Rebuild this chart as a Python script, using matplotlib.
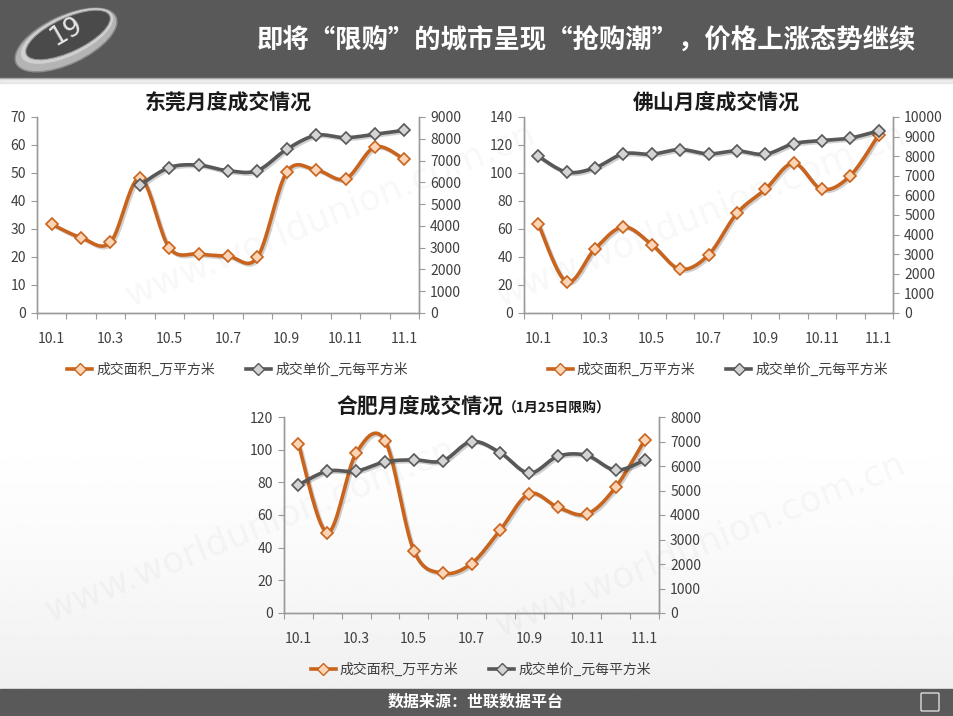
import matplotlib
matplotlib.use("Agg")
import matplotlib.pyplot as plt
import matplotlib.patheffects as pe
from matplotlib.patches import Rectangle, Ellipse, FancyBboxPatch
from matplotlib.lines import Line2D
import numpy as np

plt.rcParams['font.family'] = ['Noto Sans CJK SC', 'DejaVu Sans']

# ---- data ----
months = ["10.1", "10.2", "10.3", "10.4", "10.5", "10.6", "10.7",
          "10.8", "10.9", "10.10", "10.11", "10.12", "11.1"]

dg_area = [31.7, 26.9, 25.3, 48.2, 23.3, 21.1, 20.3, 19.9, 50.3, 51.1, 47.9, 59.3, 54.9]
dg_price = [np.nan, np.nan, np.nan, 5870, 6680, 6790, 6530, 6540, 7520, 8160, 8050, 8210, 8390]

fs_area = [63.8, 22.3, 45.8, 61.5, 48.9, 31.3, 41.5, 71.2, 88.3, 107.0, 88.3, 98.2, 127.4]
fs_price = [8000, 7190, 7410, 8120, 8100, 8340, 8120, 8270, 8100, 8640, 8800, 8930, 9300]

hf_area = [103.5, 49.2, 97.8, 105.6, 38.2, 24.4, 30.3, 51.0, 73.0, 64.7, 60.6, 77.1, 105.8]
hf_price = [5230, 5790, 5790, 6170, 6250, 6210, 7000, 6540, 5710, 6400, 6430, 5830, 6240]

area_label = "成交面积_万平方米"
price_label = "成交单价_元每平方米"
header_title = "即将“限购”的城市呈现“抢购潮”，价格上涨态势继续"
source_text = "数据来源：世联数据平台"

ORANGE = "#C8641E"
ORANGE_FILL = "#FBD5B5"
GRAY = "#585858"
GRAY_FILL = "#D4D4D4"
TICK_COLOR = "#3f3f3f"
W, H = 954, 716


def smooth(xs, ys, n=20):
    """Excel-like smoothed line (Catmull-Rom) through the valid points."""
    xs = np.asarray(xs, float)
    ys = np.asarray(ys, float)
    ok = ~np.isnan(ys)
    xs, ys = xs[ok], ys[ok]
    out_x, out_y = [], []
    t = np.linspace(0, 1, n)
    for i in range(len(xs) - 1):
        i0 = max(i - 1, 0)
        i3 = min(i + 2, len(xs) - 1)
        for src, dst in ((xs, out_x), (ys, out_y)):
            p0, p1, p2, p3 = src[i0], src[i], src[i + 1], src[i3]
            c = 0.5 * ((2 * p1) + (-p0 + p2) * t +
                       (2 * p0 - 5 * p1 + 4 * p2 - p3) * t ** 2 +
                       (-p0 + 3 * p1 - 3 * p2 + p3) * t ** 3)
            dst.extend(c)
    return out_x, out_y


def px_rect(x0, y0, x1, y1):
    return [x0 / W, 1 - y1 / H, (x1 - x0) / W, (y1 - y0) / H]


shadow = [pe.SimpleLineShadow(offset=(1.2, -1.2), alpha=0.18, shadow_color="black"), pe.Normal()]


def draw_chart(fig, rect, area, price, lmax, lstep, rmax, rstep):
    ax = fig.add_axes(rect)
    ax2 = ax.twinx()
    x = np.arange(len(months))
    for a, vals, col, fill in ((ax, area, ORANGE, ORANGE_FILL), (ax2, price, GRAY, GRAY_FILL)):
        sx, sy = smooth(x, vals)
        a.plot(sx, sy, color=col, lw=2.6, solid_capstyle="round", path_effects=shadow, zorder=3)
        a.plot(x, vals, ls="none", marker="D", ms=6.5, mfc=fill, mec=col, mew=1.2, zorder=4)
    ax.set_xlim(-0.5, len(months) - 0.5)
    ax.set_ylim(0, lmax)
    ax2.set_ylim(0, rmax)
    ax.set_yticks(np.arange(0, lmax + 1, lstep))
    ax2.set_yticks(np.arange(0, rmax + 1, rstep))
    ax.set_xticks(np.arange(-0.5, len(months), 1.0))
    ax.set_xticklabels([])
    ax.set_xticks(x[::2], minor=True)
    ax.set_xticklabels(months[::2], minor=True)
    ax.tick_params(axis="x", which="major", length=4, color="#9a9a9a", direction="out")
    ax.tick_params(axis="x", which="minor", length=0, pad=14, labelsize=10, labelcolor=TICK_COLOR)
    ax.tick_params(axis="y", length=4, color="#9a9a9a", labelsize=10, labelcolor=TICK_COLOR, pad=4)
    ax2.tick_params(axis="y", length=4, color="#9a9a9a", labelsize=10, labelcolor=TICK_COLOR, pad=4)
    for a in (ax, ax2):
        a.patch.set_visible(False)
        a.spines["top"].set_visible(False)
        for s in ("left", "right", "bottom"):
            a.spines[s].set_color("#9a9a9a")
            a.spines[s].set_linewidth(1.0)
    handles = [
        Line2D([], [], color=ORANGE, lw=2.6, marker="D", ms=6.5, mfc=ORANGE_FILL, mec=ORANGE),
        Line2D([], [], color=GRAY, lw=2.6, marker="D", ms=6.5, mfc=GRAY_FILL, mec=GRAY),
    ]
    ax2.legend(handles, [area_label, price_label], loc="upper center",
               bbox_to_anchor=(0.525, -0.19), ncol=2, frameon=False, fontsize=10,
               handlelength=1.8, columnspacing=2.2, handletextpad=0.3,
               labelcolor=TICK_COLOR)
    return ax, ax2


fig = plt.figure(figsize=(W / 100, H / 100), dpi=100)

# background with watermark, header and footer
bg = fig.add_axes([0, 0, 1, 1])
bg.set_xlim(0, W)
bg.set_ylim(H, 0)
bg.axis("off")
yy = np.linspace(0, 1, 300)
grad = 1.0 - 0.06 * np.clip((yy - 0.55) / 0.45, 0, 1) ** 1.5
bg.imshow(np.repeat(grad.reshape(-1, 1), 2, axis=1), cmap="gray", vmin=0, vmax=1,
          extent=(0, W, 689, 78), aspect="auto", zorder=0)
for wx, wy in [(330, 215), (700, 215), (250, 530), (700, 545)]:
    bg.text(wx, wy, "www.worldunion.com.cn", fontsize=26, color="#000000", alpha=0.03,
            rotation=22, ha="center", va="center", family="DejaVu Sans", zorder=1)
bg.add_patch(Rectangle((0, 0), W, 78, color="#595959", zorder=2))
bg.add_patch(Rectangle((0, 78), W, 5, color="#d8d8d8", alpha=0.5, zorder=2))
bg.add_patch(Rectangle((0, 689), W, H - 689, color="#595959", zorder=2))
# glassy "19" badge
bg.add_patch(Ellipse((66, 40), 110, 48, angle=-25, fc="#b4b4b4", ec="#8a8a8a", lw=1, zorder=3))
bg.add_patch(Ellipse((67, 36), 100, 40, angle=-25, fc="#d0d0d0", ec="none", zorder=3))
bg.add_patch(Ellipse((68, 35), 92, 34, angle=-25, fc="#4a4a4a", ec="#9a9a9a", lw=0.8, zorder=3))
bg.text(66, 32, "19", fontsize=19, color="#e6e6e6", rotation=30, ha="center", va="center",
        family="DejaVu Sans", zorder=4)
bg.text(916, 40, header_title, fontsize=19, fontweight="bold", color="white",
        ha="right", va="center", zorder=4)
bg.text(476, 702, source_text, fontsize=11.5, fontweight="bold", color="white",
        ha="center", va="center", zorder=4)
bg.add_patch(FancyBboxPatch((922, 694), 16, 16, boxstyle="round,pad=1", fc="none",
                            ec="#dddddd", lw=1, zorder=4))

# the three charts
draw_chart(fig, px_rect(37, 117, 419, 313), dg_area, dg_price, 70, 10, 9000, 1000)
draw_chart(fig, px_rect(524, 117, 893, 313), fs_area, fs_price, 140, 20, 10000, 1000)
draw_chart(fig, px_rect(284, 417, 659, 613), hf_area, hf_price, 120, 20, 8000, 1000)

fig.text(228 / W, 1 - 103 / H, "东莞月度成交情况", fontsize=15, fontweight="bold",
         ha="center", va="center", color="#1a1a1a")
fig.text(716 / W, 1 - 103 / H, "佛山月度成交情况", fontsize=15, fontweight="bold",
         ha="center", va="center", color="#1a1a1a")
fig.text(503 / W, 1 - 407 / H, "合肥月度成交情况", fontsize=15, fontweight="bold",
         ha="right", va="center", color="#1a1a1a")
fig.text(503 / W, 1 - 409 / H, "（1月25日限购）", fontsize=10, fontweight="bold",
         ha="left", va="center", color="#1a1a1a")

fig.savefig("out.png", dpi=100)
